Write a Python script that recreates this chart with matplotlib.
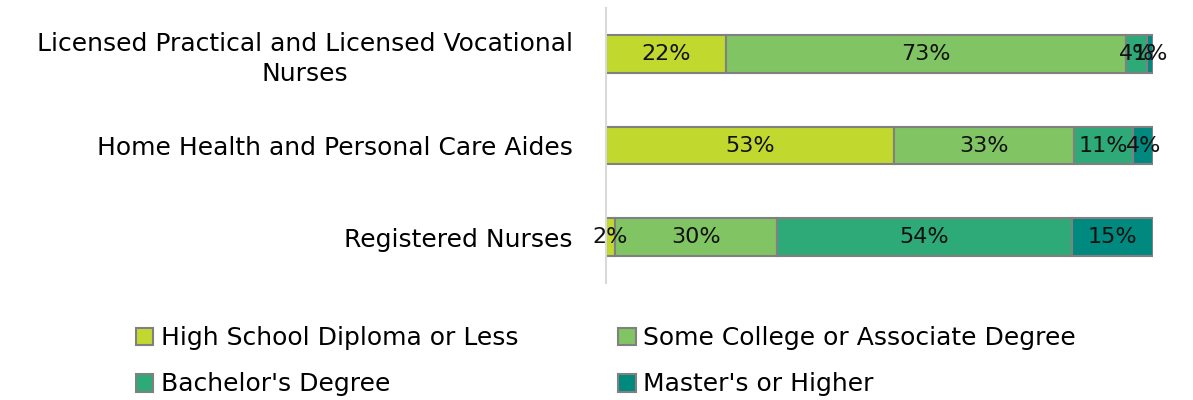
import matplotlib.pyplot as plt
import numpy as np

# occupations (bottom to top as drawn)
occupations = ["Registered Nurses",
               "Home Health and Personal Care Aides",
               "Licensed Practical and Licensed Vocational\nNurses"]
levels = ["High School Diploma or Less", "Some College or Associate Degree",
          "Bachelor's Degree", "Master's or Higher"]

# percent share per education level, same order as occupations
high_school = [1.6, 52.6, 21.9]
some_college = [29.6, 32.9, 73.2]
bachelors = [54.0, 10.9, 3.8]
masters = [14.8, 3.6, 1.1]

colors = ["#c1d82f", "#80c463", "#2eaa78", "#00897f"]

plt.rcParams['font.family'] = ['DejaVu Sans']
fs = 18

fig = plt.figure(figsize=(11.93, 4.0), dpi=100)
ax = fig.add_axes([0.508, 0.2925, 0.4585, 0.6875])

series = [high_school, some_college, bachelors, masters]
y = np.arange(len(occupations))
left = np.zeros(len(occupations))
handles = []
for vals, col, name in zip(series, colors, levels):
    vals = np.array(vals)
    bars = ax.barh(y, vals, left=left, height=0.41, color=col,
                   edgecolor="#808080", linewidth=1.5, label=name)
    handles.append(bars)
    for yi, l, v in zip(y, left, vals):
        ax.text(l + v / 2, yi, f"{round(v):.0f}%", ha="center", va="center",
                fontsize=16, color="#111111")
    left += vals

ax.set_xlim(0, 100)
ax.set_ylim(-0.5, 2.5)
ax.set_yticks(y)
ax.set_yticklabels(occupations, fontsize=fs, multialignment="center",
                   linespacing=1.3)
ax.tick_params(axis="y", length=0, pad=24)
ax.set_xticks([])
for s in ["top", "right", "bottom"]:
    ax.spines[s].set_visible(False)
ax.spines["left"].set_color("#d9d9d9")
ax.spines["left"].set_linewidth(1.5)

# legend filled row-wise like the original
order = [0, 2, 1, 3]
fig.legend([handles[i] for i in order], [levels[i] for i in order],
           loc="upper center", bbox_to_anchor=(0.508, 0.21), ncol=2,
           frameon=False, fontsize=fs, handlelength=0.7, handleheight=0.7,
           handletextpad=0.3, columnspacing=4.0, labelspacing=0.9,
           borderaxespad=0)

fig.savefig("out.png", dpi=100)
